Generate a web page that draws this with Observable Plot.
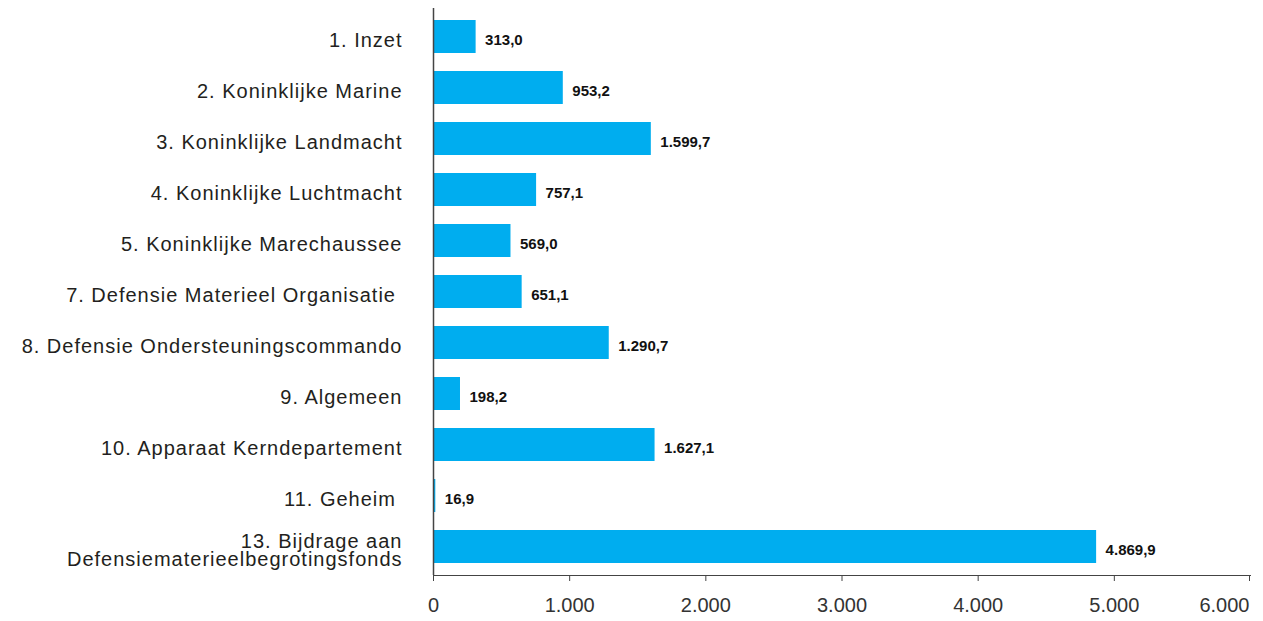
<!DOCTYPE html>
<html>
<head>
<meta charset="utf-8">
<script src="https://cdn.jsdelivr.net/npm/d3@7"></script>
<script src="https://cdn.jsdelivr.net/npm/@observablehq/plot@0.6"></script>
<style>
  html, body { margin: 0; padding: 0; background: #fff; }
  #chart svg { display: block; }
  g[aria-label="y-axis tick label"] { letter-spacing: 1px; }
</style>
</head>
<body>
<div id="chart"></div>
<script>
const categories = [
  "1. Inzet",
  "2. Koninklijke Marine",
  "3. Koninklijke Landmacht",
  "4. Koninklijke Luchtmacht",
  "5. Koninklijke Marechaussee",
  "7. Defensie Materieel Organisatie ",
  "8. Defensie Ondersteuningscommando",
  "9. Algemeen",
  "10. Apparaat Kerndepartement",
  "11. Geheim ",
  "13. Bijdrage aan\nDefensiematerieelbegrotingsfonds"
];
const values = [313.0, 953.2, 1599.7, 757.1, 569.0, 651.1, 1290.7, 198.2, 1627.1, 16.9, 4869.9];
const xTicks = [0, 1000, 2000, 3000, 4000, 5000, 6000];

const nl = d3.formatLocale({decimal: ",", thousands: ".", grouping: [3], currency: ["€", ""]});
const fmtVal = nl.format(",.1f");
const fmtTick = nl.format(",d");

const data = categories.map((c, i) => ({cat: c, value: values[i]}));
const lastTick = xTicks[xTicks.length - 1];

const chart = Plot.plot({
  width: 1263,
  height: 621,
  marginLeft: 433,
  marginRight: 13,
  marginTop: 8,
  marginBottom: 46,
  style: {fontFamily: "Liberation Sans, Arial, sans-serif", background: "#fff"},
  x: {domain: [0, lastTick], label: null},
  y: {domain: categories, range: [18, 565], paddingInner: 0.36, paddingOuter: 0, label: null},
  marks: [
    Plot.barX(data, {x: "value", y: "cat", fill: "#00adef"}),
    Plot.text(data, {x: "value", y: "cat", text: d => fmtVal(d.value), dx: 9, dy: 3, textAnchor: "start", fontWeight: "bold", fontSize: 15, fill: "#111"}),
    Plot.ruleX([0], {stroke: "#444", strokeWidth: 1.5}),
    Plot.frame({anchor: "bottom", stroke: "#444", strokeWidth: 1}),
    Plot.axisX({ticks: xTicks.slice(0, -1), tickFormat: fmtTick, tickSize: 6, tickPadding: 16, fontSize: 20, stroke: "#444", fill: "#333", label: null}),
    Plot.axisX({ticks: [lastTick], tickFormat: fmtTick, tickSize: 6, tickPadding: 16, fontSize: 20, stroke: "#444", fill: "#333", textAnchor: "end", dx: -1, label: null}),
    Plot.axisY({tickSize: 0, tickPadding: 31, fontSize: 20, fill: "#231f20", lineHeight: 0.92, dy: 4, label: null})
  ]
});
document.getElementById("chart").append(chart);
</script>
</body>
</html>
